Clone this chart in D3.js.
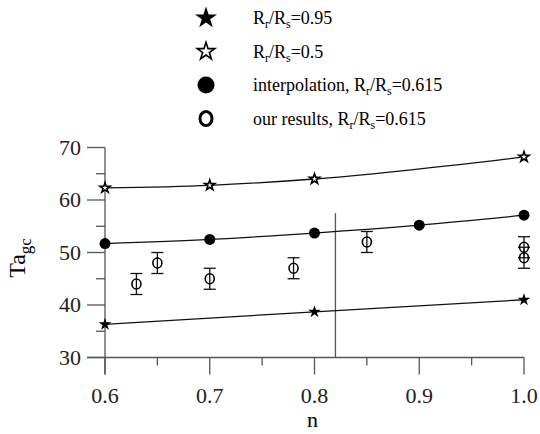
<!DOCTYPE html>
<html>
<head>
<meta charset="utf-8">
<script src="https://cdn.jsdelivr.net/npm/d3@7"></script>
<style>
  body { margin: 0; background: #fff; }
  svg { font-family: "Liberation Serif", "Times New Roman", serif; }
  .axis path, .axis line { stroke: #555; stroke-width: 1.3; }
  .axis text { font-size: 22px; fill: #222; }
</style>
</head>
<body>
<div class="chart"></div>
<script>
'use strict'

// Data.
let starOpenN = [0.6, 0.7, 0.8, 1.0],
    starOpenT = [62.3, 62.8, 64.0, 68.2];           // Rr/Rs = 0.5
let starFillN = [0.6, 0.8, 1.0],
    starFillT = [36.3, 38.7, 41.0];                 // Rr/Rs = 0.95
let interpN = [0.6, 0.7, 0.8, 0.9, 1.0],
    interpT = [51.7, 52.5, 53.7, 55.2, 57.1];       // interpolation
let oursN = [0.63, 0.65, 0.7, 0.78, 0.85, 1.0, 1.0],
    oursT = [44, 48, 45, 47, 52, 51, 49],
    oursErr = [2, 2, 2, 2, 2, 2, 2];                // our results
let xTicks = [0.6, 0.7, 0.8, 0.9, 1.0],
    yTicks = [30, 40, 50, 60, 70];
let nCritical = 0.82, critTop = 57.5;

let width = 540, height = 434;

let svg = d3.select('.chart')
    .append('svg')
    .attr('width', width)
    .attr('height', height);

// Scales.
let x = d3.scaleLinear().domain([0.6, 1.0]).range([105, 524]);
let y = d3.scaleLinear().domain([30, 70]).range([357.5, 147.5]);

// X axis (line at y=30, extends left to the y tick length).
let gx = svg.append('g').attr('class', 'axis');
gx.append('line')
    .attr('x1', 87).attr('x2', x(1.0))
    .attr('y1', y(30)).attr('y2', y(30));
gx.selectAll('.major').data(xTicks).join('line')
    .attr('x1', d => x(d)).attr('x2', d => x(d))
    .attr('y1', y(30)).attr('y2', y(30) + 17);
gx.selectAll('.minor').data([0.65, 0.75, 0.85, 0.95]).join('line')
    .attr('class', 'minor')
    .attr('x1', d => x(d)).attr('x2', d => x(d))
    .attr('y1', y(30)).attr('y2', y(30) + 8);
gx.selectAll('text').data(xTicks).join('text')
    .attr('x', d => x(d))
    .attr('y', 403)
    .attr('text-anchor', 'middle')
    .text(d => d3.format('.1f')(d));

// Y axis.
let gy = svg.append('g').attr('class', 'axis');
gy.append('line')
    .attr('x1', x(0.6)).attr('x2', x(0.6))
    .attr('y1', y(70)).attr('y2', y(30) + 17);
gy.selectAll('.major').data(yTicks).join('line')
    .attr('x1', 87).attr('x2', x(0.6))
    .attr('y1', d => y(d)).attr('y2', d => y(d));
gy.selectAll('.minor').data([35, 45, 55, 65]).join('line')
    .attr('class', 'minor')
    .attr('x1', 96).attr('x2', x(0.6))
    .attr('y1', d => y(d)).attr('y2', d => y(d));
gy.selectAll('text').data(yTicks).join('text')
    .attr('x', 81)
    .attr('y', d => y(d) + 7)
    .attr('text-anchor', 'end')
    .text(d => d);

// Axis titles.
svg.append('text')
    .attr('x', x(0.8) - 2)
    .attr('y', 427)
    .attr('text-anchor', 'middle')
    .style('font-size', '22px')
    .text('n');

let yl = svg.append('text')
    .attr('transform', 'translate(25,258) rotate(-90)')
    .attr('text-anchor', 'middle')
    .style('font-size', '24px');
yl.append('tspan').text('Ta');
yl.append('tspan').attr('dy', 6).style('font-size', '17px').text('gc');

// Vertical marker line.
svg.append('line')
    .attr('x1', x(nCritical)).attr('x2', x(nCritical))
    .attr('y1', y(critTop)).attr('y2', y(30))
    .attr('stroke', '#555').attr('stroke-width', 1.3);

// Curves.
let line = d3.line().x(d => x(d[0])).y(d => y(d[1])).curve(d3.curveMonotoneX);
[[starOpenN, starOpenT], [starFillN, starFillT], [interpN, interpT]].forEach(s => {
    svg.append('path')
        .datum(d3.zip(s[0], s[1]))
        .attr('d', line)
        .attr('fill', 'none')
        .attr('stroke', '#111')
        .attr('stroke-width', 1.3);
});

let star = d3.symbol().type(d3.symbolStar);

// Filled stars.
svg.append('g').selectAll('path').data(d3.zip(starFillN, starFillT)).join('path')
    .attr('transform', d => `translate(${x(d[0])},${y(d[1])})`)
    .attr('d', star.size(50)())
    .attr('fill', '#000');

// Open stars.
svg.append('g').selectAll('path').data(d3.zip(starOpenN, starOpenT)).join('path')
    .attr('transform', d => `translate(${x(d[0])},${y(d[1])})`)
    .attr('d', star.size(32)())
    .attr('fill', '#fff')
    .attr('stroke', '#000')
    .attr('stroke-width', 1.6);

// Interpolation dots.
svg.append('g').selectAll('circle').data(d3.zip(interpN, interpT)).join('circle')
    .attr('cx', d => x(d[0])).attr('cy', d => y(d[1]))
    .attr('r', 5.5)
    .attr('fill', '#000');

// Our results with error bars.
let ours = oursN.map((n, i) => ({n: n, t: oursT[i], e: oursErr[i]}));
let eb = svg.append('g').attr('stroke', '#111').attr('stroke-width', 1.3);
eb.selectAll('.v').data(ours).join('line')
    .attr('x1', d => x(d.n)).attr('x2', d => x(d.n))
    .attr('y1', d => y(d.t + d.e)).attr('y2', d => y(d.t - d.e));
eb.selectAll('.top').data(ours).join('line')
    .attr('class', 'top')
    .attr('x1', d => x(d.n) - 6).attr('x2', d => x(d.n) + 6)
    .attr('y1', d => y(d.t + d.e)).attr('y2', d => y(d.t + d.e));
eb.selectAll('.bot').data(ours).join('line')
    .attr('class', 'bot')
    .attr('x1', d => x(d.n) - 6).attr('x2', d => x(d.n) + 6)
    .attr('y1', d => y(d.t - d.e)).attr('y2', d => y(d.t - d.e));
svg.append('g').selectAll('ellipse').data(ours).join('ellipse')
    .attr('cx', d => x(d.n)).attr('cy', d => y(d.t))
    .attr('rx', 4.5).attr('ry', 5)
    .attr('fill', 'none')
    .attr('stroke', '#000')
    .attr('stroke-width', 1.6);

// Legend.
let legend = [
    {sym: 'starFill', pre: '', val: '0.95'},
    {sym: 'starOpen', pre: '', val: '0.5'},
    {sym: 'dot', pre: 'interpolation, ', val: '0.615'},
    {sym: 'ring', pre: 'our results, ', val: '0.615'}
];
let lg = svg.append('g').selectAll('g').data(legend).join('g')
    .attr('transform', (d, i) => `translate(206,${18 + i * 33.5})`);
lg.each(function(d) {
    let g = d3.select(this);
    if (d.sym === 'starFill') {
        g.append('path').attr('d', star.size(150)()).attr('fill', '#000');
    } else if (d.sym === 'starOpen') {
        g.append('path').attr('d', star.size(95)())
            .attr('fill', '#fff').attr('stroke', '#000').attr('stroke-width', 1.6);
    } else if (d.sym === 'dot') {
        g.append('circle').attr('r', 8.5).attr('fill', '#000');
    } else {
        g.append('ellipse').attr('rx', 6).attr('ry', 7)
            .attr('fill', 'none').attr('stroke', '#000').attr('stroke-width', 3);
    }
    let t = g.append('text')
        .attr('x', 47).attr('y', 6)
        .style('font-size', '18px');
    t.append('tspan').text(d.pre + 'R');
    t.append('tspan').attr('dy', 4).style('font-size', '12px').text('r');
    t.append('tspan').attr('dy', -4).text('/R');
    t.append('tspan').attr('dy', 4).style('font-size', '12px').text('s');
    t.append('tspan').attr('dy', -4).text('=' + d.val);
});
</script>
</body>
</html>
